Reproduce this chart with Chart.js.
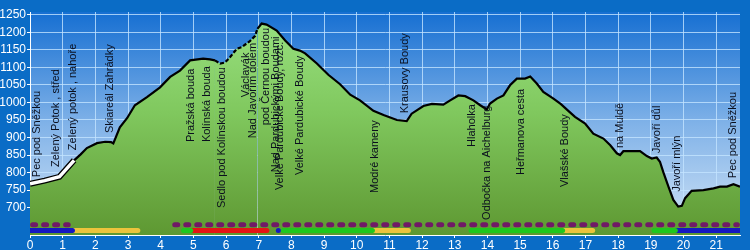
<!DOCTYPE html>
<html>
<head>
<meta charset="utf-8">
<script src="https://cdn.jsdelivr.net/npm/chart.js@4"></script>
<style>
html, body { margin: 0; padding: 0; background: #0a6cc6; }
#wrap { width: 750px; height: 250px; }
</style>
</head>
<body>
<div id="wrap"><canvas id="chart"></canvas></div>
<script>
// elevation profile (km, m)
const profileKm = [0, 0.45, 0.9, 1.35, 1.55, 1.74, 2.05, 2.3, 2.48, 2.55,
  2.75, 2.97, 3.21, 3.58, 3.98, 4.29, 4.59, 4.9, 5.3, 5.51,
  5.66, 5.82, 5.97, 6.12, 6.33, 6.48, 6.73, 6.89, 6.96, 7.09,
  7.24, 7.55, 7.81, 8.06, 8.26, 8.42, 8.78, 9.13, 9.49, 9.8,
  10.1, 10.51, 10.82, 11.23, 11.53, 11.68, 12.04, 12.3, 12.65, 12.86,
  13.11, 13.32, 13.57, 13.78, 13.98, 14.08, 14.29, 14.49, 14.69, 14.9,
  15.15, 15.31, 15.51, 15.71, 16.02, 16.25, 16.45, 16.68, 16.99, 17.24,
  17.55, 17.76, 17.96, 18.06, 18.16, 18.67, 18.88, 19.03, 19.18, 19.28,
  19.38, 19.54, 19.69, 19.84, 19.95, 20.05, 20.25, 20.61, 20.92, 21.12,
  21.33, 21.53, 21.73];
const profileElev = [768, 777, 788, 835, 852, 870, 884, 888, 887, 883,
  929, 955, 992, 1015, 1043, 1073, 1091, 1120, 1125, 1123,
  1120, 1111, 1114, 1129, 1153, 1158, 1175, 1190, 1210, 1225,
  1222, 1205, 1177, 1153, 1148, 1140, 1111, 1079, 1052, 1022,
  1006, 976, 964, 950, 947, 968, 990, 996, 994, 1006,
  1020, 1018, 1006, 992, 980, 997, 1011, 1020, 1049, 1068,
  1068, 1074, 1054, 1030, 1011, 995, 978, 959, 940, 911,
  897, 878, 855, 850, 861, 861, 847, 840, 843, 831,
  802, 760, 722, 703, 705, 727, 748, 750, 755, 760,
  760, 767, 760];

// road part at the start, unmarked path part
const roadUntilKm = 1.35;
const pathFromKm = 5.66;
const pathToKm = 6.96;

// places: name, km, elevation where the vertical label begins
const placeNames = ["Pec pod Sněžkou", "Zelený Potok , střed", "Zelený potok , nahoře",
  "Skiareál Zahrádky", "Pražská bouda", "Kolínská bouda", "Sedlo pod Kolínskou boudou",
  "Václavák", "Nad Javořím dolem", "pod Černou boudou", "Nad Pardubickými Boudami",
  "Velké Pardubické Boudy, rozc.", "Velké Pardubické Boudy", "Modré kameny",
  "Krausovy Boudy", "Hlaholka", "Odbočka na Aichelburg", "Heřmanova cesta",
  "Vlašské Boudy", "na Muldě", "Javoří důl", "Javoří mlýn", "Pec pod Sněžkou"];
const placeKm = [0.21, 0.8, 1.32, 2.45, 4.93, 5.42, 5.88, 6.61, 6.83, 7.22, 7.53,
  7.65, 8.26, 10.56, 11.48, 13.53, 13.99, 15.03, 16.38, 18.06, 19.19, 19.8, 21.52];
const placeLabelElev = [787, 816, 864, 913, 887, 887, 699, 1015, 898, 935, 801,
  750, 793, 742, 969, 873, 665, 793, 759, 870, 855, 745, 784];

// trail markings along the route
const markFrom = [0, 1.3, 4.7, 4.92, 7.6, 7.75, 10.5, 13.5, 16.3, 19.1, 19.75];
const markTo = [1.3, 3.3, 4.92, 7.25, 7.62, 10.48, 11.58, 16.3, 17.22, 19.75, 21.73];
const markType = ["blue", "yellow", "green", "red", "blue", "green", "yellow",
  "green", "yellow", "green", "blue"];
const routeFrom = [0, 4.35];
const routeTo = [1.25, 21.73];

const kmTicks = [0, 1, 2, 3, 4, 5, 6, 7, 8, 9, 10, 11, 12, 13, 14, 15, 16, 17, 18, 19, 20, 21];
const elevTicks = [700, 750, 800, 850, 900, 950, 1000, 1050, 1100, 1150, 1200, 1250];

const markColours = { blue: "#1418c0", yellow: "#ecc43c", green: "#1ec81e", red: "#e41414" };
const routeElev = 651;
const markElev = 635;

const pts = profileKm.map((k, i) => ({ x: k, y: profileElev[i] }));
const roadPts = pts.filter(p => p.x <= roadUntilKm);

const datasets = [];
markFrom.forEach((f, i) => {
  datasets.push({
    data: [{ x: f, y: markElev }, { x: markTo[i], y: markElev }],
    borderColor: markColours[markType[i]],
    borderWidth: 5,
    borderCapStyle: "round",
    pointRadius: 0,
    order: 1
  });
});
routeFrom.forEach((f, i) => {
  datasets.push({
    data: [{ x: f + 0.08, y: routeElev }, { x: routeTo[i] - 0.08, y: routeElev }],
    borderColor: "#701a66",
    borderWidth: 5,
    borderCapStyle: "round",
    borderDash: [3, 8],
    pointRadius: 0,
    order: 2
  });
});
datasets.push({
  data: roadPts,
  borderColor: "#ffffff",
  borderWidth: 3.5,
  pointRadius: 0,
  order: 3
});
datasets.push({
  data: roadPts,
  borderColor: "#000000",
  borderWidth: 6,
  pointRadius: 0,
  order: 4
});
datasets.push({
  data: pts,
  borderColor: "#000000",
  borderWidth: 2.2,
  pointRadius: 0,
  fill: "start",
  order: 5,
  segment: {
    borderDash: c => (c.p0.parsed.x >= pathFromKm && c.p1.parsed.x <= pathToKm) ? [4, 2] : undefined
  },
  backgroundColor: c => {
    const a = c.chart.chartArea;
    if (!a) return "#7cc45c";
    const g = c.chart.ctx.createLinearGradient(0, a.top, 0, a.bottom);
    g.addColorStop(0, "#9ae282");
    g.addColorStop(0.45, "#80c85e");
    g.addColorStop(1, "#5e9832");
    return g;
  }
});

const skyPlugin = {
  id: "sky",
  beforeDraw(chart) {
    const { ctx, chartArea: a } = chart;
    ctx.save();
    ctx.fillStyle = "#0a6cc6";
    ctx.fillRect(0, 0, chart.width, chart.height);
    const g = ctx.createLinearGradient(0, a.top, 0, a.bottom);
    g.addColorStop(0, "#166fd2");
    g.addColorStop(0.5, "#80b2e8");
    g.addColorStop(1, "#d2e4f6");
    ctx.fillStyle = g;
    ctx.fillRect(a.left, a.top, a.right - a.left, a.bottom - a.top);
    ctx.restore();
  }
};

const placePlugin = {
  id: "places",
  afterDatasetsDraw(chart) {
    const { ctx, scales: { x, y } } = chart;
    ctx.save();
    ctx.font = '11px "Liberation Sans", Arial, sans-serif';
    ctx.fillStyle = "#0a0f1e";
    ctx.textAlign = "left";
    ctx.textBaseline = "middle";
    placeNames.forEach((n, i) => {
      ctx.save();
      ctx.translate(x.getPixelForValue(placeKm[i]), y.getPixelForValue(placeLabelElev[i]));
      ctx.rotate(-Math.PI / 2);
      ctx.fillText(n, 0, 0);
      ctx.restore();
    });
    ctx.restore();
  }
};

new Chart(document.getElementById("chart"), {
  type: "line",
  data: { datasets },
  plugins: [skyPlugin, placePlugin],
  options: {
    responsive: true,
    maintainAspectRatio: false,
    animation: false,
    layout: { padding: { top: 12, right: 10, left: 0, bottom: 0 } },
    plugins: { legend: { display: false }, tooltip: { enabled: false } },
    elements: { line: { tension: 0 } },
    scales: {
      x: {
        type: "linear",
        min: 0,
        max: 21.73,
        afterBuildTicks: s => { s.ticks = kmTicks.map(v => ({ value: v })); },
        afterFit: s => { s.height = 15; },
        grid: { color: "rgba(195,228,255,0.8)", tickLength: 3, tickColor: "#ffffff" },
        border: { color: "#ffffff" },
        ticks: { color: "#ffffff", padding: 0, maxRotation: 0, autoSkip: false,
          callback: v => String(v),
          font: { family: '"Liberation Sans", Arial, sans-serif', size: 12 } }
      },
      y: {
        min: 622,
        max: 1258,
        afterBuildTicks: s => { s.ticks = elevTicks.map(v => ({ value: v })); },
        afterFit: s => { s.width = 30; },
        grid: { color: "rgba(195,228,255,0.8)", tickLength: 3, tickColor: "#ffffff" },
        border: { color: "#ffffff" },
        ticks: { color: "#ffffff", padding: 1, autoSkip: false,
          callback: v => String(v),
          font: { family: '"Liberation Sans", Arial, sans-serif', size: 12 } }
      }
    }
  }
});
</script>
</body>
</html>
